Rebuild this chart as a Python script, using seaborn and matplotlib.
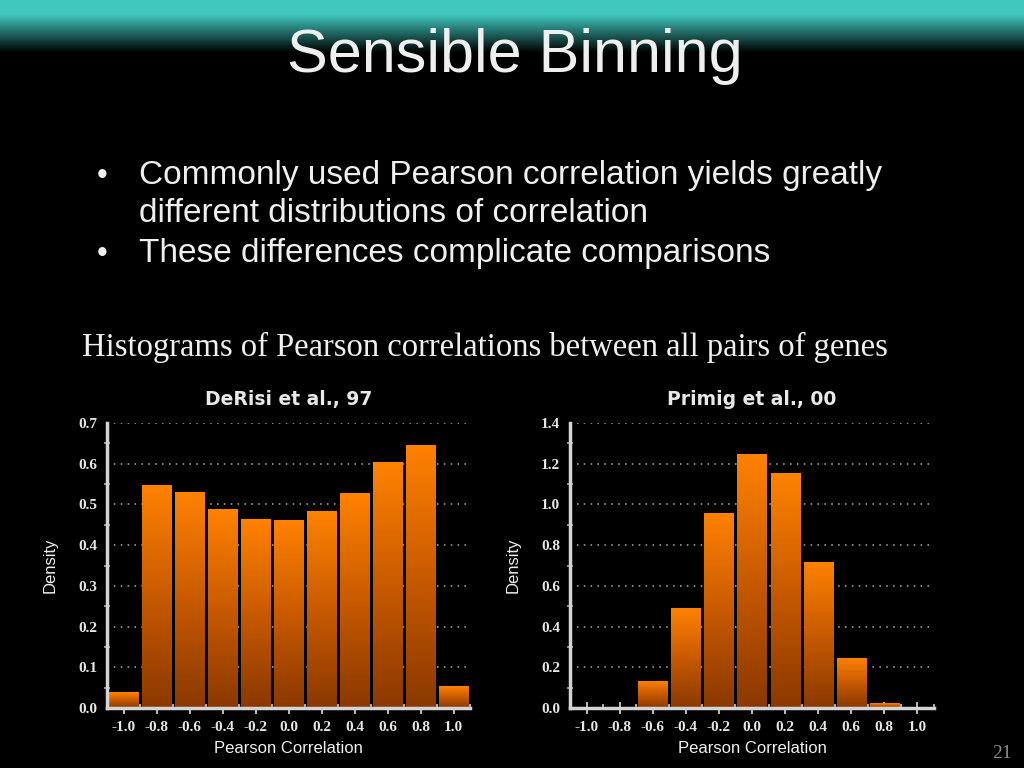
import numpy as np
import pandas as pd
import matplotlib
matplotlib.use('Agg')
import matplotlib.pyplot as plt
from matplotlib.colors import LinearSegmentedColormap
from matplotlib.ticker import MultipleLocator
import seaborn as sns

# values
bin_centers = [-1.0, -0.8, -0.6, -0.4, -0.2, 0.0, 0.2, 0.4, 0.6, 0.8, 1.0]
derisi_density = [0.039, 0.548, 0.531, 0.489, 0.464, 0.461, 0.483, 0.528, 0.603, 0.647, 0.053]
primig_density = [0.0, 0.0, 0.135, 0.489, 0.959, 1.25, 1.154, 0.719, 0.246, 0.023, 0.0]
tick_labels = ['-1.0', '-0.8', '-0.6', '-0.4', '-0.2', '0.0', '0.2', '0.4', '0.6', '0.8', '1.0']

bullets = ['Commonly used Pearson correlation yields greatly',
           'different distributions of correlation',
           'These differences complicate comparisons']

sns.set_style('dark', {'axes.facecolor': 'black', 'figure.facecolor': 'black'})
plt.rcParams['font.family'] = ['Liberation Sans', 'DejaVu Sans']
plt.rcParams['axes.unicode_minus'] = False

fig = plt.figure(figsize=(10.24, 7.68), dpi=100)
fig.patch.set_facecolor('black')

# teal band at the top of the slide
bg = fig.add_axes([0, 0, 1, 1], zorder=-10)
rows = np.zeros((768, 1, 3))
yy = np.arange(768)
fade = np.clip((52 - yy) / 38.0, 0, 1)
rows[:, 0, 0] = 63 / 255 * fade
rows[:, 0, 1] = 200 / 255 * fade
rows[:, 0, 2] = 190 / 255 * fade
bg.imshow(rows, aspect='auto', extent=(0, 1, 0, 1), origin='upper')
bg.set_axis_off()

txt = '#efefef'
fig.text(515 / 1024, 1 - 72 / 768, 'Sensible Binning', ha='center', va='baseline',
         fontsize=44, color=txt)

fig.text(102 / 1024, 1 - 184 / 768, '\u2022', ha='center', va='baseline', fontsize=22, color=txt)
fig.text(139 / 1024, 1 - 184 / 768, bullets[0], ha='left', va='baseline', fontsize=24, color=txt)
fig.text(139 / 1024, 1 - 222 / 768, bullets[1], ha='left', va='baseline', fontsize=24, color=txt)
fig.text(102 / 1024, 1 - 262 / 768, '\u2022', ha='center', va='baseline', fontsize=22, color=txt)
fig.text(139 / 1024, 1 - 262 / 768, bullets[2], ha='left', va='baseline', fontsize=24, color=txt)

fig.text(82 / 1024, 1 - 356 / 768, 'Histograms of Pearson correlations between all pairs of genes',
         ha='left', va='baseline', fontsize=23.5, color=txt, family='Liberation Serif')

fig.text(1002 / 1024, 1 - 758 / 768, '21', ha='center', va='baseline', fontsize=14,
         color='#8a8a8a', family='Liberation Serif')

bar_cmap = LinearSegmentedColormap.from_list('bar', ['#8a3800', '#c85a00', '#ff8200'])


def shade_bars(ax):
    grad = np.linspace(0, 1, 256).reshape(-1, 1)
    for bar in list(ax.patches):
        x0, y0 = bar.get_x(), bar.get_y()
        w, h = bar.get_width(), bar.get_height()
        if h <= 0:
            continue
        im = ax.imshow(grad, cmap=bar_cmap, aspect='auto', origin='lower',
                       extent=(x0, x0 + w, y0, y0 + h), zorder=3)
        im.set_clip_path(bar)


def draw_hist(ax, values, title, ymax, ystep):
    df = pd.DataFrame({'corr': bin_centers, 'density': values})
    sns.barplot(data=df, x='corr', y='density', native_scale=True, width=0.88,
                color='#ff7f00', errorbar=None, ax=ax, zorder=2, linewidth=0)
    shade_bars(ax)
    ax.set_xlim(-1.1, 1.1)
    ax.set_ylim(0, ymax)
    ax.set_xticks(bin_centers)
    ax.set_xticklabels(tick_labels)
    ax.set_yticks(np.arange(0, ymax + ystep / 2, ystep))
    ax.set_yticklabels([f'{v:.1f}' for v in np.arange(0, ymax + ystep / 2, ystep)])
    ax.yaxis.set_minor_locator(MultipleLocator(ystep / 2))
    ax.xaxis.set_minor_locator(MultipleLocator(0.1))
    for lab in ax.get_xticklabels() + ax.get_yticklabels():
        lab.set_family('Liberation Serif')
        lab.set_fontweight('bold')
        lab.set_fontsize(11)
        lab.set_color('#e6e6e6')
    ax.tick_params(axis='y', which='major', direction='out', length=4, width=1.2,
                   color='#cccccc', pad=3)
    ax.tick_params(axis='y', which='minor', direction='inout', length=5, width=1.2,
                   color='#aaaaaa', left=True)
    ax.tick_params(axis='x', which='major', direction='inout', length=9, width=1.2,
                   color='#dddddd', pad=5, bottom=True)
    ax.tick_params(axis='x', which='minor', direction='in', length=3, width=1.2,
                   color='#cccccc', bottom=True)
    ax.yaxis.grid(True, linestyle=(0, (1, 3.5)), color='#b0b0b0', linewidth=1.1)
    ax.xaxis.grid(False)
    ax.set_axisbelow(True)
    for side in ['top', 'right']:
        ax.spines[side].set_visible(False)
    for side in ['left', 'bottom']:
        ax.spines[side].set_visible(True)
        ax.spines[side].set_color('#d4d4d4')
        ax.spines[side].set_linewidth(2.5)
        ax.spines[side].set_zorder(4)
    ax.set_xlabel('Pearson Correlation', fontsize=12, color=txt)
    ax.set_ylabel('Density', fontsize=12, color=txt)
    ax.xaxis.set_label_coords(0.5, -0.115)
    ax.yaxis.set_label_coords(-0.135, 0.5)
    ax.set_title(title, fontsize=13.5, fontweight='bold', color='#e8e8e8',
                 family='DejaVu Sans', pad=13)


ax1 = fig.add_axes([107 / 1024, 1 - 708 / 768, 363 / 1024, 285 / 768])
ax2 = fig.add_axes([570 / 1024, 1 - 708 / 768, 364 / 1024, 285 / 768])
draw_hist(ax1, derisi_density, 'DeRisi et al., 97', 0.7, 0.1)
draw_hist(ax2, primig_density, 'Primig et al., 00', 1.4, 0.2)

fig.savefig('out.png', dpi=100, facecolor='black')
